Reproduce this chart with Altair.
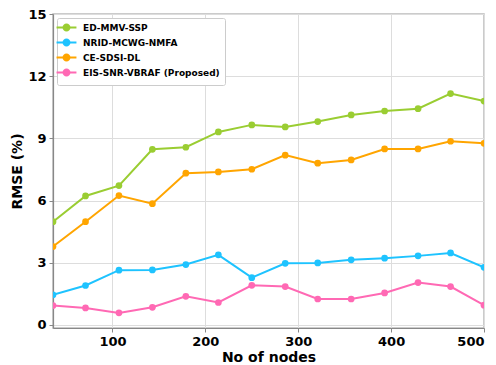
import altair as alt
import pandas as pd

# Number of nodes on the x axis
nodes = [36, 71, 107, 143, 179, 214, 250, 286, 321, 357, 393, 429, 464, 500]

# RMSE (%) of each method
ed_mmv_ssp = [4.98, 6.22, 6.72, 8.47, 8.57, 9.31, 9.65, 9.55, 9.81, 10.13, 10.32, 10.43, 11.16, 10.80]
nrid_mcwg_nmfa = [1.45, 1.90, 2.64, 2.65, 2.91, 3.38, 2.28, 2.97, 2.99, 3.14, 3.22, 3.33, 3.47, 2.78]
ce_sdsi_dl = [3.78, 4.98, 6.24, 5.85, 7.32, 7.38, 7.51, 8.19, 7.80, 7.96, 8.49, 8.49, 8.86, 8.76]
eis_snr_vbraf = [0.93, 0.82, 0.58, 0.85, 1.38, 1.08, 1.91, 1.85, 1.25, 1.25, 1.54, 2.04, 1.85, 0.95]

methods = ["ED-MMV-SSP", "NRID-MCWG-NMFA", "CE-SDSI-DL", "EIS-SNR-VBRAF (Proposed)"]
colors = ["#9acd32", "#1ec3ff", "#ffa500", "#ff69b4"]
series = [ed_mmv_ssp, nrid_mcwg_nmfa, ce_sdsi_dl, eis_snr_vbraf]

rows = []
for name, vals in zip(methods, series):
    for n, v in zip(nodes, vals):
        rows.append({"nodes": n, "rmse": v, "method": name})
df = pd.DataFrame(rows)

FONT = "DejaVu Sans"

# legend glyph: short line with a dot in the middle
line_dot = "M-3,0H3M0.9,0A0.9,0.9,0,1,1,-0.9,0A0.9,0.9,0,1,1,0.9,0"

x_enc = alt.X(
    "nodes:Q",
    scale=alt.Scale(domain=[36, 500], nice=False, zero=False),
    axis=alt.Axis(values=[100, 200, 300, 400, 500], title="No of nodes"),
)
y_enc = alt.Y(
    "rmse:Q",
    scale=alt.Scale(domain=[-0.15, 15], nice=False, zero=False),
    axis=alt.Axis(values=[0, 3, 6, 9, 12, 15], title="RMSE (%)"),
)
color_enc = alt.Color(
    "method:N",
    scale=alt.Scale(domain=methods, range=colors),
    sort=methods,
    legend=alt.Legend(
        title=None,
        orient="top-left",
        offset=4,
        symbolType=line_dot,
        symbolSize=44,
        symbolStrokeWidth=2,
        labelFont=FONT,
        labelFontSize=9,
        labelFontWeight="bold",
        labelColor="#000000",
        labelOffset=12,
        rowPadding=0,
        padding=5,
        strokeColor="#cccccc",
        fillColor="#ffffff",
        cornerRadius=2,
    ),
)

lines = alt.Chart(df).mark_line(strokeWidth=2, clip=True).encode(
    x=x_enc, y=y_enc, color=color_enc
)
points = alt.Chart(df).mark_point(filled=True, size=45, opacity=1, clip=True).encode(
    x=x_enc, y=y_enc, color=alt.Color("method:N", scale=alt.Scale(domain=methods, range=colors), legend=None)
)

chart = (
    alt.layer(lines, points)
    .properties(
        width=431,
        height=314,
        autosize=alt.AutoSizeParams(type="none"),
        padding={"left": 53, "top": 14, "right": 12, "bottom": 37},
    )
    .configure_view(stroke="#bbbbbb", strokeWidth=1.5)
    .configure_axis(
        labelFont=FONT,
        labelFontSize=13,
        labelFontWeight="bold",
        labelColor="#000000",
        titleFont=FONT,
        titleFontSize=14,
        titleFontWeight="bold",
        titleColor="#000000",
        gridColor="#dddddd",
        gridWidth=1,
        domainColor="#888888",
        domainWidth=1.2,
        tickColor="#888888",
        tickSize=4,
        labelPadding=3,
    )
    .configure_axisY(titlePadding=3)
    .configure_axisX(titlePadding=2)
)

chart.save("out.html", embed_options={"renderer": "svg", "actions": False})
